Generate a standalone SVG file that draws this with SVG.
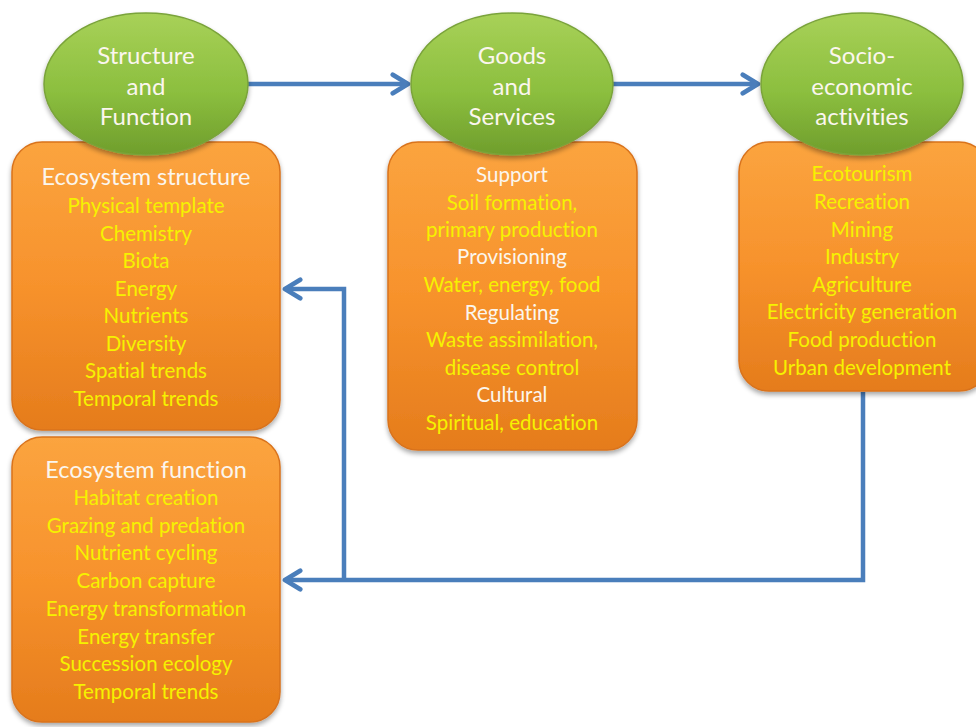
<svg xmlns="http://www.w3.org/2000/svg" width="976" height="727" viewBox="0 0 976 727">
  <defs>
    <linearGradient id="orangeFill" x1="0" y1="0" x2="0" y2="1">
      <stop offset="0" stop-color="#fba43f"/>
      <stop offset="0.5" stop-color="#f7922c"/>
      <stop offset="1" stop-color="#e57c1c"/>
    </linearGradient>
    <linearGradient id="greenFill" x1="0" y1="0" x2="0" y2="1">
      <stop offset="0" stop-color="#a8d158"/>
      <stop offset="0.55" stop-color="#8cbf3f"/>
      <stop offset="1" stop-color="#6f9e2c"/>
    </linearGradient>
    <filter id="shadow" x="-10%" y="-10%" width="120%" height="125%">
      <feGaussianBlur in="SourceAlpha" stdDeviation="2.5"/>
      <feOffset dx="0" dy="3" result="blur"/>
      <feComponentTransfer><feFuncA type="linear" slope="0.35"/></feComponentTransfer>
      <feMerge><feMergeNode/><feMergeNode in="SourceGraphic"/></feMerge>
    </filter>
    <marker id="chevron" viewBox="0 0 20 20" refX="17" refY="10" markerWidth="5.2" markerHeight="5.2" orient="auto" markerUnits="strokeWidth">
      <path d="M4,2 L17,10 L4,18" fill="none" stroke="#4a7ebb" stroke-width="4" stroke-linecap="round" stroke-linejoin="round"/>
    </marker>
    <style>
      .box { fill: url(#orangeFill); stroke: #d9731c; stroke-width: 1.5; filter: url(#shadow); }
      .oval { fill: url(#greenFill); stroke: #7aa33a; stroke-width: 1.5; filter: url(#shadow); }
      .t { font-family: "Lato", "Liberation Sans", sans-serif; text-anchor: middle; dominant-baseline: central; font-variant-ligatures: none; }
      .head { fill: #fbf6ee; font-size: 23.5px; }
      .sub { fill: #fbf6ee; font-size: 20.5px; }
      .item { fill: #f6f200; font-size: 20.5px; }
      .oval-t { fill: #fbf6ee; font-size: 24px; }
      .conn { fill: none; stroke: #4a7ebb; stroke-width: 4.5; stroke-linejoin: miter; marker-end: url(#chevron); }
    </style>
  </defs>

  <rect width="976" height="727" fill="#ffffff"/>

  <!-- connectors -->
  <g id="connectors">
    <path class="conn" d="M248,84 L408,84"/>
    <path class="conn" d="M613,84 L758,84"/>
    <path class="conn" d="M863,392 L863,580 L285,580"/>
    <path class="conn" d="M344,580 L344,289 L285,289"/>
  </g>

  <!-- ecosystem structure list -->
  <g id="structure-box">
    <rect class="box" x="12" y="142" width="268" height="288" rx="30"/>
    <text class="t head" x="146" y="176">Ecosystem structure</text>
    <text class="t item" x="146" y="205">Physical template</text>
    <text class="t item" x="146" y="233">Chemistry</text>
    <text class="t item" x="146" y="260">Biota</text>
    <text class="t item" x="146" y="288">Energy</text>
    <text class="t item" x="146" y="315">Nutrients</text>
    <text class="t item" x="146" y="343">Diversity</text>
    <text class="t item" x="146" y="370">Spatial trends</text>
    <text class="t item" x="146" y="398">Temporal trends</text>
  </g>

  <!-- ecosystem function list -->
  <g id="function-box">
    <rect class="box" x="12" y="437" width="268" height="285" rx="30"/>
    <text class="t head" x="146" y="469">Ecosystem function</text>
    <text class="t item" x="146" y="497">Habitat creation</text>
    <text class="t item" x="146" y="525">Grazing and predation</text>
    <text class="t item" x="146" y="552">Nutrient cycling</text>
    <text class="t item" x="146" y="580">Carbon capture</text>
    <text class="t item" x="146" y="608">Energy transformation</text>
    <text class="t item" x="146" y="636">Energy transfer</text>
    <text class="t item" x="146" y="663">Succession ecology</text>
    <text class="t item" x="146" y="691">Temporal trends</text>
  </g>

  <!-- goods and services list -->
  <g id="services-box">
    <rect class="box" x="388" y="142" width="249" height="308" rx="30"/>
    <text class="t sub" x="512" y="174">Support</text>
    <text class="t item" x="512" y="202">Soil formation,</text>
    <text class="t item" x="512" y="229">primary production</text>
    <text class="t sub" x="512" y="256">Provisioning</text>
    <text class="t item" x="512" y="284">Water, energy, food</text>
    <text class="t sub" x="512" y="312">Regulating</text>
    <text class="t item" x="512" y="339">Waste assimilation,</text>
    <text class="t item" x="512" y="367">disease control</text>
    <text class="t sub" x="512" y="394">Cultural</text>
    <text class="t item" x="512" y="422">Spiritual, education</text>
  </g>

  <!-- socio-economic activities list -->
  <g id="activities-box">
    <rect class="box" x="739" y="142" width="250" height="249" rx="30"/>
    <text class="t item" x="862" y="173">Ecotourism</text>
    <text class="t item" x="862" y="201">Recreation</text>
    <text class="t item" x="862" y="229">Mining</text>
    <text class="t item" x="862" y="256">Industry</text>
    <text class="t item" x="862" y="284">Agriculture</text>
    <text class="t item" x="862" y="311">Electricity generation</text>
    <text class="t item" x="862" y="339">Food production</text>
    <text class="t item" x="862" y="367">Urban development</text>
  </g>

  <!-- headline ovals -->
  <g id="structure-function">
    <ellipse class="oval" cx="146" cy="84" rx="102" ry="71"/>
    <text class="t oval-t" x="146" y="54">Structure</text>
    <text class="t oval-t" x="146" y="85">and</text>
    <text class="t oval-t" x="146" y="115">Function</text>
  </g>
  <g id="goods-services">
    <ellipse class="oval" cx="512" cy="84" rx="101" ry="71"/>
    <text class="t oval-t" x="512" y="54">Goods</text>
    <text class="t oval-t" x="512" y="85">and</text>
    <text class="t oval-t" x="512" y="115">Services</text>
  </g>
  <g id="socio-economic">
    <ellipse class="oval" cx="862" cy="84" rx="101" ry="71"/>
    <text class="t oval-t" x="862" y="54">Socio-</text>
    <text class="t oval-t" x="862" y="85">economic</text>
    <text class="t oval-t" x="862" y="115">activities</text>
  </g>
</svg>
